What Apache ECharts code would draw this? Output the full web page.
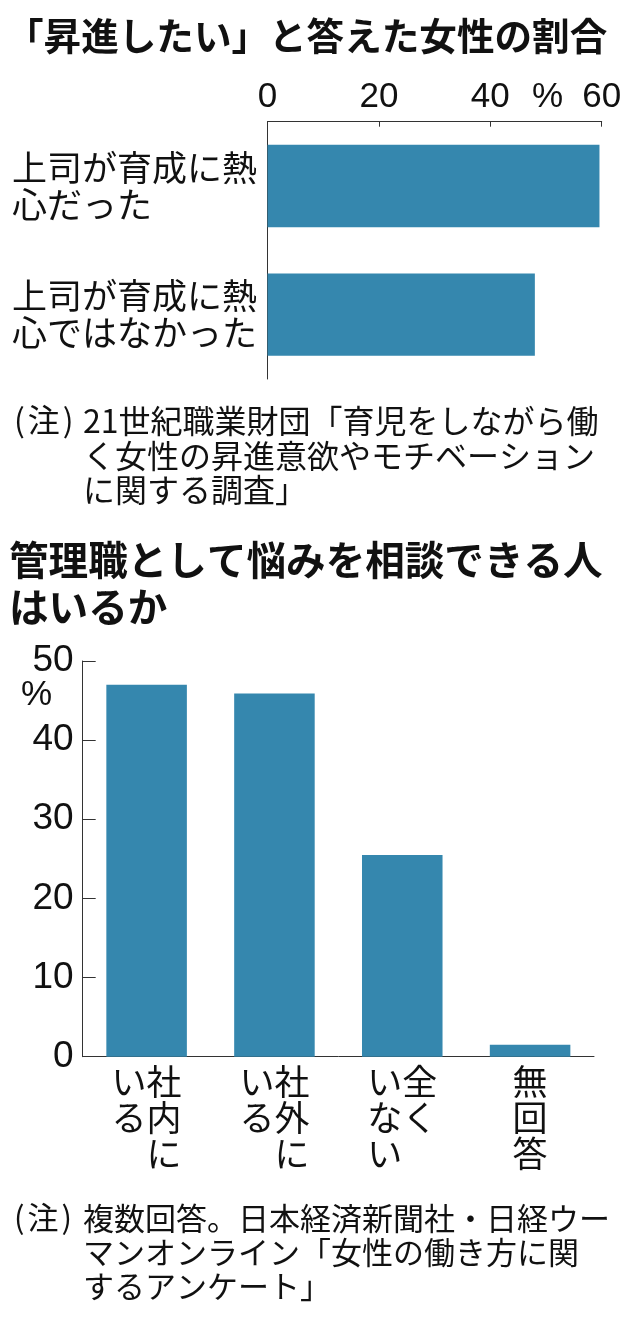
<!DOCTYPE html>
<html lang="ja">
<head>
    <meta charset="UTF-8">
    <title>昇進意欲と相談相手</title>
    <script src="https://cdn.jsdelivr.net/npm/echarts@6/dist/echarts.min.js"></script>
    <style>
        html, body { margin: 0; padding: 0; background: #fff; }
        #main { width: 630px; height: 1317px; }
    </style>
</head>
<body>
    <div id="main"></div>
    <script>
        // 上のグラフ
        const titleTop = '「昇進したい」と答えた女性の割合';
        const categoriesTop = ['上司が育成に熱心だった', '上司が育成に熱心ではなかった'];
        const valuesTop = [59.6, 48.0];
        const ticksTop = [0, 20, 40, 60];
        const noteTop = '21世紀職業財団「育児をしながら働\nく女性の昇進意欲やモチベーション\nに関する調査」';

        // 下のグラフ
        const titleBottom = '管理職として悩みを相談できる人\nはいるか';
        const categoriesBottom = ['社内にいる', '社外にいる', '全くいない', '無回答'];
        const columnBreaks = [3, 3, 2, 3];   // 縦書きの列の区切り位置
        const valuesBottom = [47.0, 45.9, 25.5, 1.5];
        const ticksBottom = [0, 10, 20, 30, 40, 50];
        const noteBottom = '複数回答。日本経済新聞社・日経ウー\nマンオンライン「女性の働き方に関\nするアンケート」';

        const JP = '"Noto Sans CJK JP", sans-serif';
        const NUM = '"Liberation Sans", Arial, sans-serif';
        const INK = '#111';
        const BAR = '#3587ae';
        const LINE = '#333';

        // 縦書き風：右の列から読む2列を1行ずつ並べる
        function verticalLabel(value) {
            const i = categoriesBottom.indexOf(value);
            const right = value.slice(0, columnBreaks[i]);
            const left = value.slice(columnBreaks[i]);
            const rows = [];
            const n = Math.max(right.length, left.length);
            for (let r = 0; r < n; r++) {
                if (!left.length) {
                    rows.push(right[r] || '　');
                } else {
                    rows.push((left[r] || '　') + (right[r] || '　'));
                }
            }
            return rows.join('\n');
        }

        // (注) の括弧を少し離す
        function noteMark(size) {
            return {
                text: '{p|(}{c|注}{p|)}',
                textStyle: {
                    fontFamily: JP, fontSize: size, fontWeight: 'normal', color: INK,
                    rich: {
                        p: { fontFamily: JP, fontSize: size, fontWeight: 'normal', color: INK, padding: [0, 3] },
                        c: { fontFamily: JP, fontSize: size, fontWeight: 'normal', color: INK }
                    }
                }
            };
        }

        const myChart = echarts.init(document.getElementById('main'));

        const mark1 = noteMark(32);
        const mark2 = noteMark(31);

        const option = {
            animation: false,
            title: [
                {
                    text: titleTop, left: 6, top: 16, padding: 0,
                    textStyle: { fontFamily: JP, fontSize: 37.6, fontWeight: 'bold', color: INK, lineHeight: 40 }
                },
                {
                    text: titleBottom, left: 9, top: 536, padding: 0,
                    textStyle: { fontFamily: JP, fontSize: 39.6, fontWeight: 'bold', color: INK, lineHeight: 47 }
                },
                {
                    text: mark1.text, left: 11, top: 404, padding: 0,
                    textStyle: mark1.textStyle
                },
                {
                    text: noteTop, left: 83, top: 404, padding: 0,
                    textStyle: { fontFamily: JP, fontSize: 32, fontWeight: 'normal', color: INK, lineHeight: 34.5 }
                },
                {
                    text: mark2.text, left: 11, top: 1202, padding: 0,
                    textStyle: mark2.textStyle
                },
                {
                    text: noteBottom, left: 83, top: 1201, padding: 0,
                    textStyle: { fontFamily: JP, fontSize: 31, fontWeight: 'normal', color: INK, lineHeight: 34 }
                }
            ],
            graphic: [
                {
                    type: 'text', left: 532, top: 80,
                    style: { text: '%', font: '35px ' + NUM, fill: INK }
                },
                {
                    type: 'text', left: 21, top: 678,
                    style: { text: '%', font: '35px ' + NUM, fill: INK }
                }
            ],
            grid: [
                { left: 267.5, right: 28.3, top: 121.7, height: 257.3 },
                { left: 82.7, right: 36, top: 661, bottom: 260.3 }
            ],
            xAxis: [
                {
                    gridIndex: 0,
                    type: 'value',
                    position: 'top',
                    min: ticksTop[0],
                    max: ticksTop[ticksTop.length - 1],
                    interval: ticksTop[1] - ticksTop[0],
                    axisLine: { show: true, lineStyle: { color: LINE, width: 1 } },
                    axisTick: { show: true, inside: true, length: 5, lineStyle: { color: LINE } },
                    axisLabel: { fontFamily: NUM, fontSize: 35, color: INK, margin: 7 },
                    splitLine: { show: false }
                },
                {
                    gridIndex: 1,
                    type: 'category',
                    data: categoriesBottom,
                    axisLine: { show: true, lineStyle: { color: LINE, width: 1 } },
                    axisTick: { show: false },
                    axisLabel: {
                        fontFamily: JP, fontSize: 35, lineHeight: 36, color: INK,
                        margin: 7, interval: 0, align: 'center', verticalAlign: 'top',
                        formatter: verticalLabel
                    }
                }
            ],
            yAxis: [
                {
                    gridIndex: 0,
                    type: 'category',
                    inverse: true,
                    data: categoriesTop,
                    axisLine: { show: true, lineStyle: { color: LINE, width: 1 } },
                    axisTick: { show: false },
                    axisLabel: {
                        fontFamily: JP, fontSize: 35, lineHeight: 37, color: INK,
                        align: 'left', margin: 255.5, interval: 0,
                        formatter: v => v.slice(0, 7) + '\n' + v.slice(7)
                    }
                },
                {
                    gridIndex: 1,
                    type: 'value',
                    min: ticksBottom[0],
                    max: ticksBottom[ticksBottom.length - 1],
                    interval: ticksBottom[1] - ticksBottom[0],
                    axisLine: { show: true, lineStyle: { color: LINE, width: 1 } },
                    axisTick: { show: true, inside: true, length: 13, lineStyle: { color: LINE } },
                    axisLabel: { fontFamily: NUM, fontSize: 37, color: INK, margin: 9 },
                    splitLine: { show: false }
                }
            ],
            series: [
                {
                    type: 'bar',
                    xAxisIndex: 0,
                    yAxisIndex: 0,
                    data: valuesTop,
                    barWidth: '64%',
                    itemStyle: { color: BAR },
                    silent: true
                },
                {
                    type: 'bar',
                    xAxisIndex: 1,
                    yAxisIndex: 1,
                    data: valuesBottom,
                    barWidth: '63%',
                    itemStyle: { color: BAR },
                    silent: true
                }
            ]
        };

        myChart.setOption(option);
    </script>
</body>
</html>
